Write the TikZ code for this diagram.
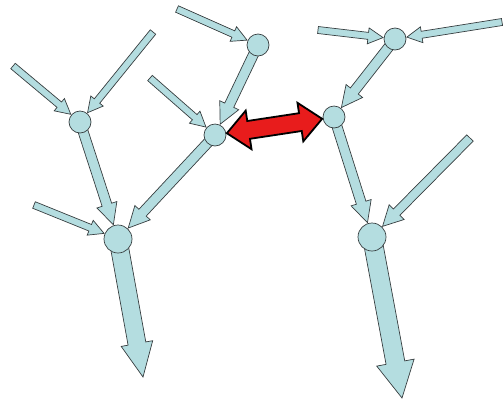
\documentclass[tikz,border=0pt]{standalone}
\usetikzlibrary{calc,backgrounds}
\definecolor{flowblue}{RGB}{180,221,224}
\definecolor{edgegray}{RGB}{55,62,64}
\definecolor{linkred}{RGB}{232,28,28}
\tikzset{
  hub/.style={circle,draw=edgegray,fill=flowblue,line width=0.7pt,inner sep=0pt,minimum size=22pt},
  bighub/.style={hub,minimum size=28pt},
  flow/.style={draw=edgegray,fill=flowblue,line width=0.7pt,line join=miter},
  link/.style={draw=black,fill=linkred,line width=1.8pt,line join=miter},
}
% block arrow: style, tail, tip, shaft half width, head half width, head length
\newcommand\blockarrow[6]{%
  \path (#2) coordinate (ba-s) (#3) coordinate (ba-e);
  \path ($(ba-e)!#6!(ba-s)$) coordinate (ba-h);
  \path[#1] ($(ba-s)!#4!90:(ba-e)$) -- ($(ba-h)!#4!-90:(ba-s)$) -- ($(ba-h)!#5!-90:(ba-s)$)
    -- (ba-e) -- ($(ba-h)!#5!90:(ba-s)$) -- ($(ba-h)!#4!90:(ba-s)$) -- ($(ba-s)!#4!-90:(ba-e)$) -- cycle;}
% two-headed block arrow: style, tip, tip, shaft half width, head half width, head length
\newcommand\doublearrow[6]{%
  \path (#2) coordinate (da-a) (#3) coordinate (da-b);
  \path ($(da-a)!#6!(da-b)$) coordinate (da-ha) ($(da-b)!#6!(da-a)$) coordinate (da-hb);
  \path[#1] (da-a) -- ($(da-ha)!#5!90:(da-b)$) -- ($(da-ha)!#4!90:(da-b)$)
    -- ($(da-hb)!#4!-90:(da-a)$) -- ($(da-hb)!#5!-90:(da-a)$) -- (da-b)
    -- ($(da-hb)!#5!90:(da-a)$) -- ($(da-hb)!#4!90:(da-a)$)
    -- ($(da-ha)!#4!-90:(da-b)$) -- ($(da-ha)!#5!-90:(da-b)$) -- cycle;}
\begin{document}
\begin{tikzpicture}[x=1pt,y=-1pt]
\useasboundingbox (0,0) rectangle (503,400);
% junctions
\node[hub]    (A) at (80,122) {};
\node[bighub] (B) at (118,239) {};
\node[hub]    (C) at (215,135) {};
\node[hub]    (D) at (258,45) {};
\node[hub]    (E) at (395,39) {};
\node[hub]    (F) at (334,117) {};
\node[bighub] (G) at (372,237) {};
% loose ends
\coordinate (inA1) at (13,66);
\coordinate (inA2) at (153,32);
\coordinate (inB)  at (34,205);
\coordinate (inC)  at (150,78);
\coordinate (inD)  at (177,9);
\coordinate (inE1) at (318,30);
\coordinate (inE2) at (502,22);
\coordinate (inG)  at (470,138);
\coordinate (outB) at (143,377);
\coordinate (outG) at (402,398);
\begin{pgfonlayer}{background}
  % inflows
  \blockarrow{flow}{inA1}{$(A)!12pt!(inA1)$}{3.5pt}{8pt}{15pt}
  \blockarrow{flow}{inA2}{$(A)!12pt!(inA2)$}{3.5pt}{8pt}{15pt}
  \blockarrow{flow}{inB}{$(B)!15pt!(inB)$}{3.5pt}{8pt}{15pt}
  \blockarrow{flow}{inC}{$(C)!12pt!(inC)$}{3.5pt}{8pt}{15pt}
  \blockarrow{flow}{inD}{$(D)!12pt!(inD)$}{3.5pt}{8pt}{15pt}
  \blockarrow{flow}{inE1}{$(E)!12pt!(inE1)$}{3.5pt}{8pt}{15pt}
  \blockarrow{flow}{inE2}{$(E)!12pt!(inE2)$}{3.5pt}{8pt}{15pt}
  \blockarrow{flow}{inG}{$(G)!15pt!(inG)$}{4.5pt}{10.5pt}{20pt}
  % links between junctions
  \blockarrow{flow}{A}{$(B)!15pt!(A)$}{5pt}{10.5pt}{21pt}
  \blockarrow{flow}{C}{$(B)!15pt!(C)$}{5pt}{10.5pt}{21pt}
  \blockarrow{flow}{D}{$(C)!12pt!(D)$}{5pt}{10.5pt}{21pt}
  \blockarrow{flow}{E}{$(F)!12pt!(E)$}{5pt}{10.5pt}{21pt}
  \blockarrow{flow}{F}{$(G)!15pt!(F)$}{5pt}{10.5pt}{21pt}
  % outflows
  \blockarrow{flow}{B}{outB}{9pt}{16pt}{34pt}
  \blockarrow{flow}{G}{outG}{9.5pt}{19pt}{36pt}
\end{pgfonlayer}
% exchange between the two trees
\doublearrow{link}{$(C)!12pt!(F)$}{$(F)!12pt!(C)$}{9pt}{19.5pt}{22pt}
\end{tikzpicture}
\end{document}
